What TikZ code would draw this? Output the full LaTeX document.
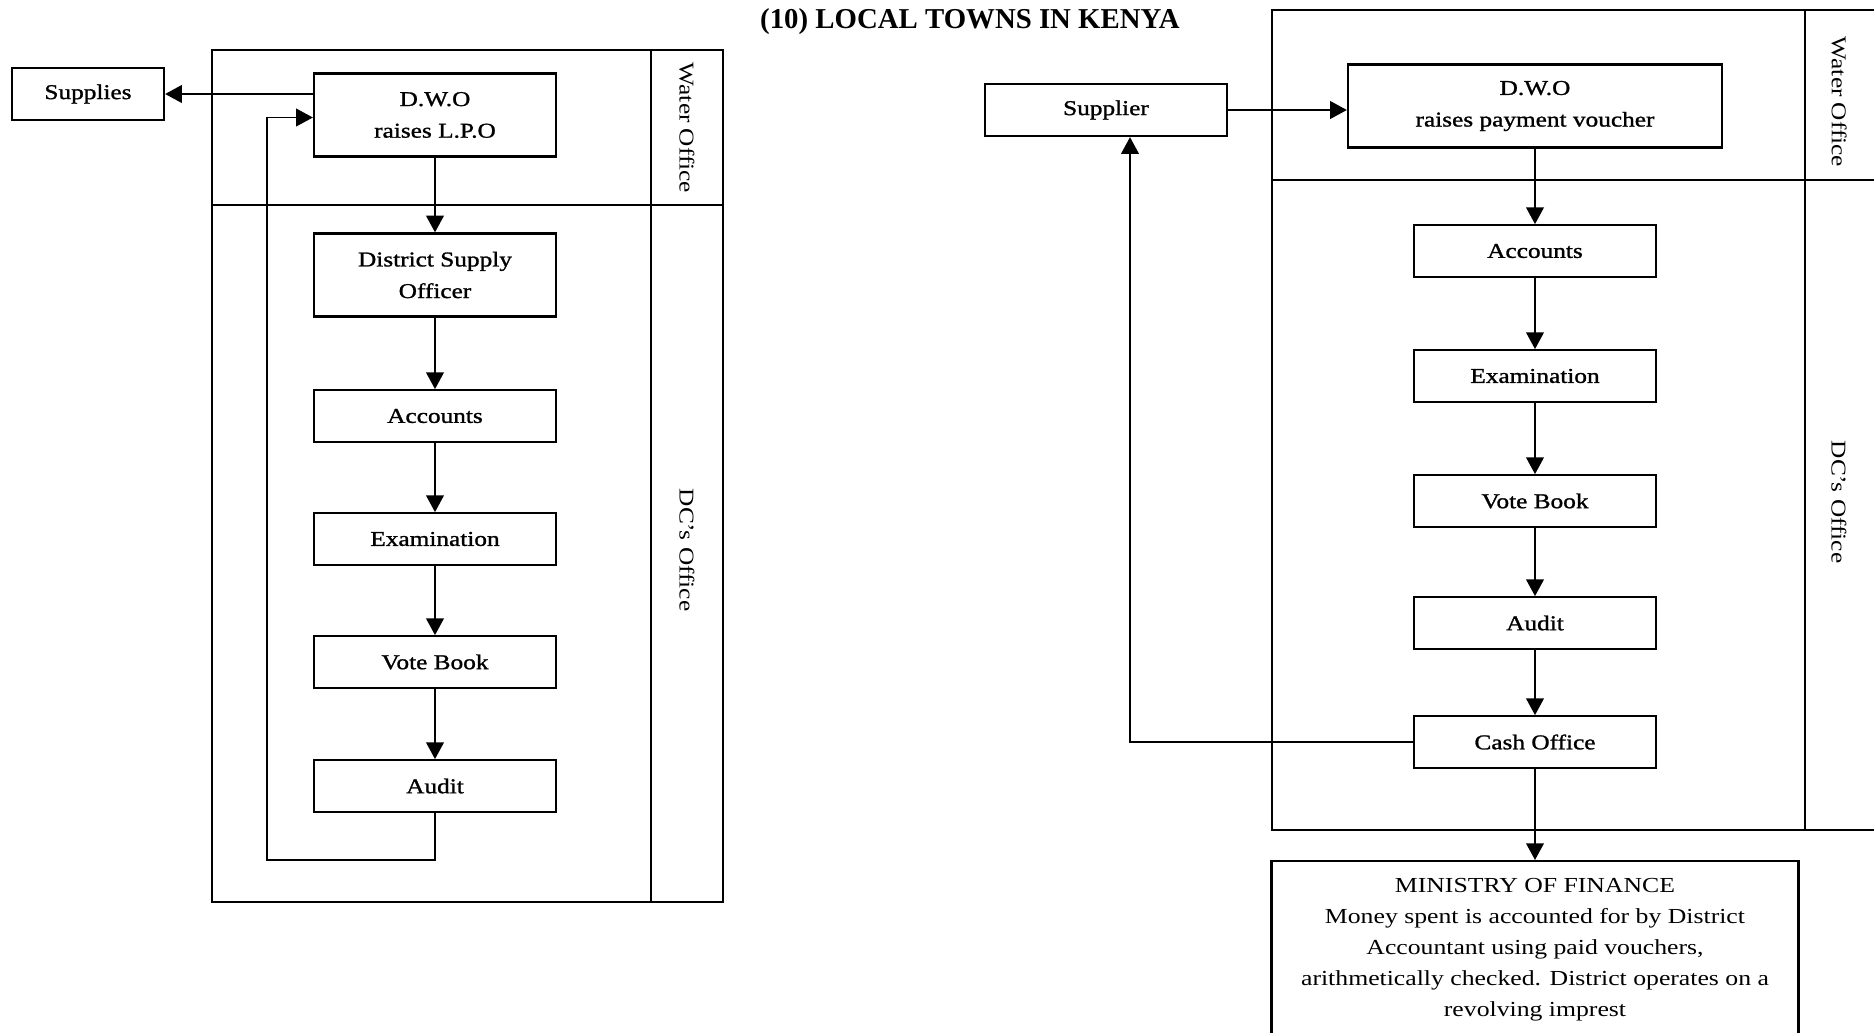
\documentclass[tikz,border=0pt]{standalone}
\usepackage{fontspec}
\setmainfont[FakeStretch=1.2]{Liberation Serif}
\newfontfamily\boxfont[FakeStretch=1.2,FakeBold=1.2]{Liberation Serif}
\newfontfamily\headfont{Liberation Serif}
\usetikzlibrary{arrows.meta}
\begin{document}
\begin{tikzpicture}[x=0.02cm,y=-0.02cm,
		box/.style={draw,line width=1.3pt,align=center,minimum width=4.84cm,
			minimum height=1.03cm,inner sep=2pt,font=\boxfont\fontsize{12}{18}\selectfont},
		tallbox/.style={box,minimum height=1.66cm},
		lanelbl/.style={rotate=-90,font=\fontsize{12}{14}\selectfont},
		lanebox/.style={line width=1.6pt},
		arr/.style={-{Triangle[length=9.5pt,width=10pt]},line width=1.1pt}]
	\useasboundingbox (0,0) rectangle (1874,1032);
	% left chart
	\draw[lanebox] (212,50) rectangle (723,902);
	\draw[lanebox] (212,205) -- (723,205);
	\draw[lanebox] (651,50) -- (651,902);
	\node[lanelbl] (woL) at (687,128) {Water Office};
	\node[lanelbl] (dcL) at (687,550) {DC's Office};
	\node[box,minimum width=3.04cm,minimum height=1.04cm] (sup) at (88,94) {Supplies};
	\node[tallbox] (dwoL) at (435,115) {D.W.O\\raises L.P.O};
	\node[tallbox] (dso) at (435,275) {District Supply\\Officer};
	\foreach \N/\T/\Y in {accL/Accounts/416,examL/Examination/539,voteL/Vote Book/662,audL/Audit/786}
		\node[box] (\N) at (435,\Y) {\T};
	\foreach \A/\B in {dwoL/dso,dso/accL,accL/examL,examL/voteL,voteL/audL}
		\draw[arr] (\A) -- (\B);
	\draw[arr] (sup -| dwoL.west) -- (sup.east);
	\coordinate (fbL) at (267,860);
	\draw[arr] (audL.south) |- (fbL) |- ([yshift=-0.05cm]dwoL.west);
	% right chart
	\node[font=\headfont\bfseries\fontsize{16.4}{19}\selectfont,anchor=base west] (ttl) at (754,28) {(10) LOCAL TOWNS IN KENYA};
	\begin{scope}
		\clip (0,0) rectangle (1874,1032);
		\draw[lanebox] (1272,10) rectangle (1900,830);
		\draw[lanebox] (1272,180) -- (1900,180);
		\draw[lanebox] (1805,10) -- (1805,830);
		\node[box,anchor=north,minimum width=10.54cm,inner ysep=0.34cm,text depth=4cm,
			font=\fontsize{12.2}{17.6}\selectfont] (mof) at (1535,860)
			{MINISTRY OF FINANCE\\Money spent is accounted for by District\\Accountant using paid vouchers,\\arithmetically checked. District operates on a\\revolving imprest};
	\end{scope}
	\node[lanelbl] (woR) at (1839,102) {Water Office};
	\node[lanelbl] (dcR) at (1839,502) {DC's Office};
	\node[box,minimum height=1.04cm] (supR) at (1106,110) {Supplier};
	\node[tallbox,minimum width=7.48cm] (dwoR) at (1535,106) {D.W.O\\raises payment voucher};
	\foreach \N/\T/\Y in {accR/Accounts/251,examR/Examination/376,voteR/Vote Book/501,audR/Audit/623,cash/Cash Office/742}
		\node[box] (\N) at (1535,\Y) {\T};
	\foreach \A/\B in {dwoR/accR,accR/examR,examR/voteR,voteR/audR,audR/cash}
		\draw[arr] (\A) -- (\B);
	\draw[arr] (supR.east) -- (supR.east -| dwoR.west);
	\draw[arr] (cash.west) -| ([xshift=0.48cm]supR.south);
	\draw[arr] (cash) -- (mof);
\end{tikzpicture}
\end{document}
